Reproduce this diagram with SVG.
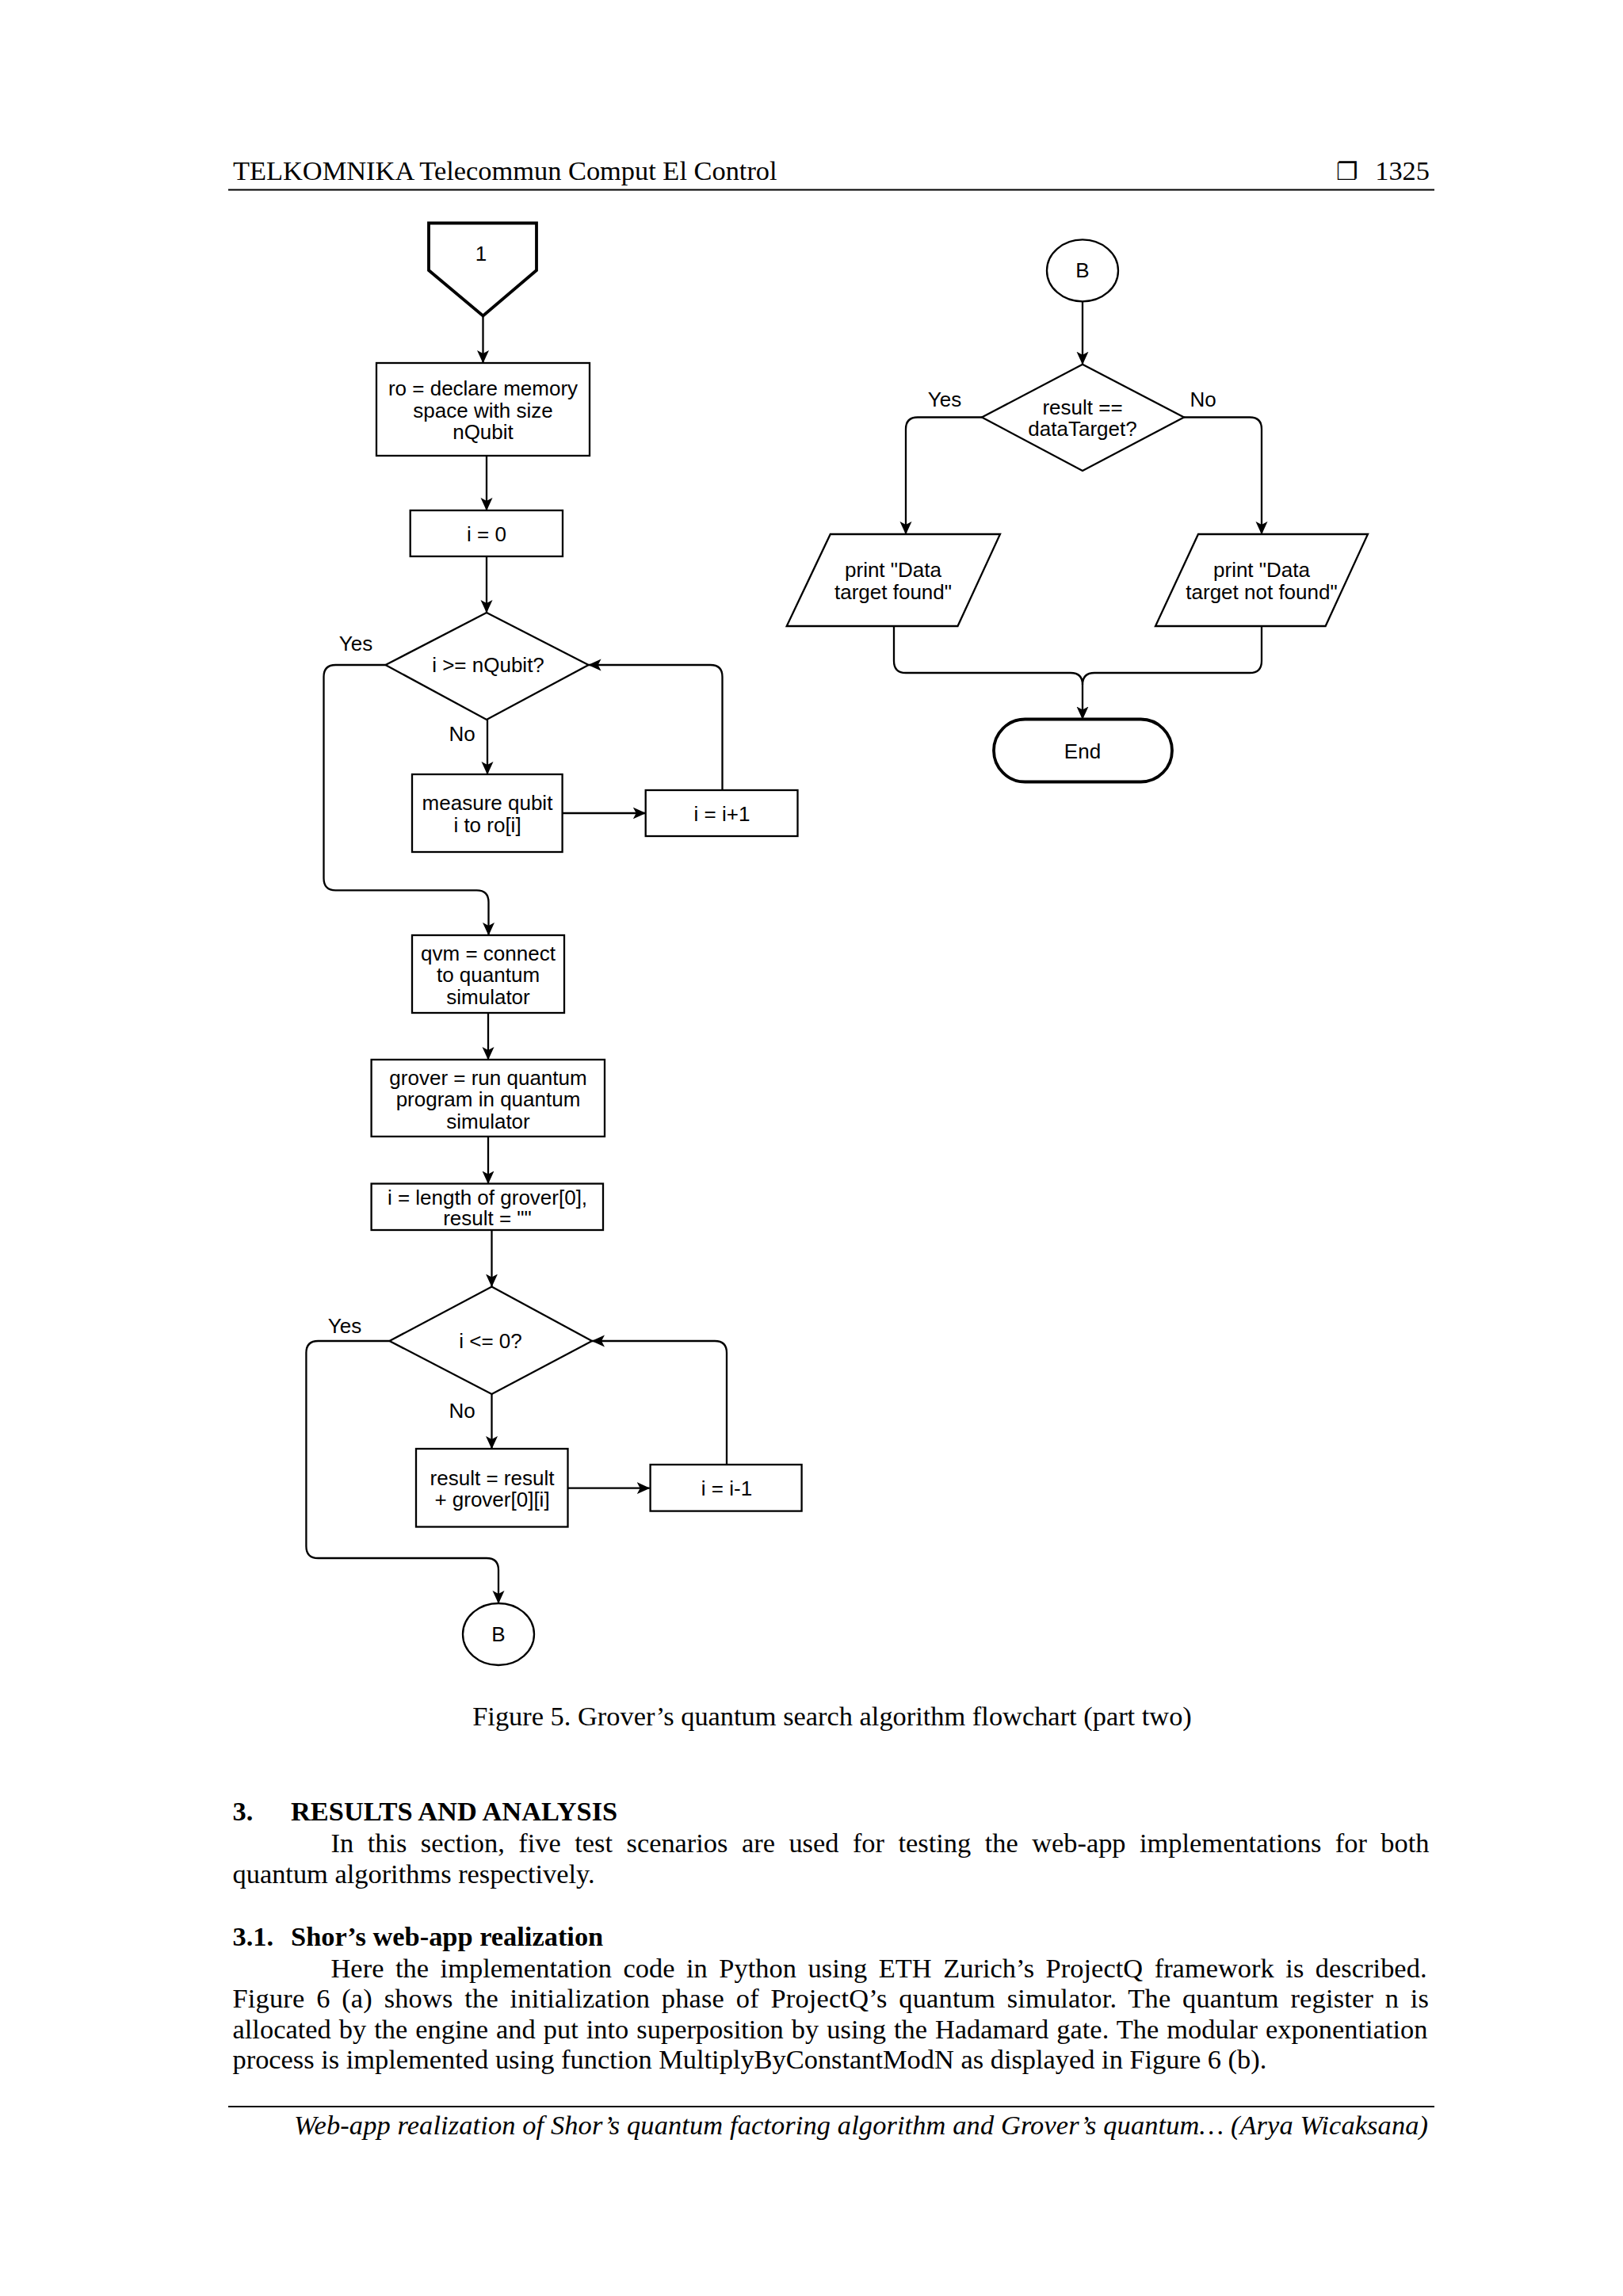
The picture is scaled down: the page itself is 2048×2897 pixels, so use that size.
<svg xmlns="http://www.w3.org/2000/svg" width="2048" height="2897" viewBox="0 0 2048 2897">
<style>
.page{font-family:"Liberation Serif","Times New Roman",serif;font-size:34.4px;fill:#000}
.bold{font-weight:bold}
.ital{font-style:italic}
.node{fill:#fff;stroke:#000;stroke-width:2.3}
.thick{fill:#fff;stroke:#000;stroke-width:3.8}
.nt{font-family:"Liberation Sans",Arial,sans-serif;font-size:26px;fill:#000;text-anchor:middle}
.lbl{font-family:"Liberation Sans",Arial,sans-serif;font-size:26px;fill:#000;text-anchor:middle}
.edge{fill:none;stroke:#000;stroke-width:2.3}
.rule{stroke:#000;stroke-width:2.2}
</style>
<defs>
<marker id="arr" markerUnits="userSpaceOnUse" markerWidth="17" markerHeight="17" refX="16" refY="8" orient="auto" viewBox="0 0 17 16">
<path d="M0,0.5 L16.5,8 L0,15.5 L4,8 Z" fill="#000"/>
</marker>
</defs>
<rect x="0" y="0" width="2048" height="2897" fill="#fff"/>

<g id="header">
<text class="page" x="294" y="227">TELKOMNIKA Telecommun Comput El Control</text>
<text x="1686" y="227" style="font-family:'DejaVu Sans',sans-serif;font-size:31px;fill:#000">❐</text>
<text class="page" x="1804" y="227" text-anchor="end">1325</text>
<line class="rule" x1="288" y1="239.5" x2="1810" y2="239.5"/>
</g>

<g id="connectors">
<line class="edge" x1="609.5" y1="398.5" x2="609.5" y2="458" marker-end="url(#arr)"/>
<line class="edge" x1="614" y1="575" x2="614" y2="644" marker-end="url(#arr)"/>
<line class="edge" x1="614" y1="702" x2="614" y2="773" marker-end="url(#arr)"/>
<path class="edge" d="M486.5,839 H423.5 Q408.5,839 408.5,854 V1108.3 Q408.5,1123.3 423.5,1123.3 H601.5 Q616.5,1123.3 616.5,1138.3 V1180" marker-end="url(#arr)"/>
<line class="edge" x1="615" y1="908" x2="615" y2="977" marker-end="url(#arr)"/>
<line class="edge" x1="709.6" y1="1026" x2="814.7" y2="1026" marker-end="url(#arr)"/>
<path class="edge" d="M911.5,997 V854 Q911.5,839 896.5,839 H742.6" marker-end="url(#arr)"/>
<line class="edge" x1="616" y1="1278" x2="616" y2="1337" marker-end="url(#arr)"/>
<line class="edge" x1="616" y1="1434" x2="616" y2="1493.5" marker-end="url(#arr)"/>
<line class="edge" x1="620.5" y1="1552" x2="620.5" y2="1623.5" marker-end="url(#arr)"/>
<path class="edge" d="M491.5,1692 H401.4 Q386.4,1692 386.4,1707 V1951 Q386.4,1966 401.4,1966 H614 Q629,1966 629,1981 V2023" marker-end="url(#arr)"/>
<line class="edge" x1="620.5" y1="1759" x2="620.5" y2="1828" marker-end="url(#arr)"/>
<line class="edge" x1="716.5" y1="1877.7" x2="819.7" y2="1877.7" marker-end="url(#arr)"/>
<path class="edge" d="M917,1848 V1707 Q917,1692 902,1692 H747" marker-end="url(#arr)"/>
<line class="edge" x1="1366" y1="380.4" x2="1366" y2="459.7" marker-end="url(#arr)"/>
<path class="edge" d="M1239,526.5 H1158 Q1143,526.5 1143,541.5 V674" marker-end="url(#arr)"/>
<path class="edge" d="M1494,526.5 H1577 Q1592,526.5 1592,541.5 V674" marker-end="url(#arr)"/>
<path class="edge" d="M1128,790 V834 Q1128,849 1143,849 H1351 Q1366,849 1366,864 V907.5" marker-end="url(#arr)"/>
<path class="edge" d="M1592,790 V834 Q1592,849 1577,849 H1381 Q1366,849 1366,864"/>
<text class="lbl" x="449" y="821">Yes</text>
<text class="lbl" x="583" y="935">No</text>
<text class="lbl" x="435" y="1682">Yes</text>
<text class="lbl" x="583" y="1789">No</text>
<text class="lbl" x="1192" y="513">Yes</text>
<text class="lbl" x="1518" y="513">No</text>
</g>

<g id="n_start">
<polygon class="thick" points="541,281.5 677,281.5 677,341 609.5,398.5 541,341"/>
<text class="nt" x="607" y="329">1</text>
</g>
<g id="n_ro">
<rect class="node" x="475" y="458" width="269" height="117"/>
<text class="nt" x="609.5" y="499">ro = declare memory</text>
<text class="nt" x="609.5" y="527">space with size</text>
<text class="nt" x="609.5" y="554">nQubit</text>
</g>
<g id="n_i0">
<rect class="node" x="517.7" y="644" width="192.3" height="58"/>
<text class="nt" x="614" y="683">i = 0</text>
</g>
<g id="n_cond1">
<polygon class="node" points="614,773 742.6,839 614,908 486.5,839"/>
<text class="nt" x="616" y="848">i &gt;= nQubit?</text>
</g>
<g id="n_measure">
<rect class="node" x="520" y="977" width="189.6" height="98"/>
<text class="nt" x="615" y="1022">measure qubit</text>
<text class="nt" x="615" y="1049.5">i to ro[i]</text>
</g>
<g id="n_inc">
<rect class="node" x="814.7" y="997" width="191.8" height="58"/>
<text class="nt" x="911" y="1036">i = i+1</text>
</g>
<g id="n_qvm">
<rect class="node" x="520" y="1180" width="192" height="98"/>
<text class="nt" x="616" y="1211.5">qvm = connect</text>
<text class="nt" x="616" y="1239">to quantum</text>
<text class="nt" x="616" y="1266.5">simulator</text>
</g>
<g id="n_grover">
<rect class="node" x="468.6" y="1337" width="294.4" height="97"/>
<text class="nt" x="616" y="1368.5">grover = run quantum</text>
<text class="nt" x="616" y="1396">program in quantum</text>
<text class="nt" x="616" y="1423.5">simulator</text>
</g>
<g id="n_len">
<rect class="node" x="468.6" y="1493.5" width="292.4" height="58.5"/>
<text class="nt" x="615" y="1520">i = length of grover[0],</text>
<text class="nt" x="615" y="1546">result = ""</text>
</g>
<g id="n_cond2">
<polygon class="node" points="620.5,1623.5 747,1692 620.5,1759 491.5,1692"/>
<text class="nt" x="619" y="1701">i &lt;= 0?</text>
</g>
<g id="n_result">
<rect class="node" x="525" y="1828" width="191.5" height="98.5"/>
<text class="nt" x="621" y="1874">result = result</text>
<text class="nt" x="621" y="1900.5">+ grover[0][i]</text>
</g>
<g id="n_dec">
<rect class="node" x="820.6" y="1848" width="191" height="58.6"/>
<text class="nt" x="917" y="1887">i = i-1</text>
</g>
<g id="n_b_out">
<ellipse class="node" cx="629" cy="2062" rx="45" ry="39"/>
<text class="nt" x="629" y="2071">B</text>
</g>
<g id="n_b_in">
<ellipse class="node" cx="1366" cy="341.4" rx="45" ry="39"/>
<text class="nt" x="1366" y="350">B</text>
</g>
<g id="n_cond3">
<polygon class="node" points="1366,459.7 1494,526.5 1366,594 1239,526.5"/>
<text class="nt" x="1366" y="523">result ==</text>
<text class="nt" x="1366" y="550">dataTarget?</text>
</g>
<g id="n_found">
<polygon class="node" points="1047.8,674 1262,674 1208.5,790 992.7,790"/>
<text class="nt" x="1127" y="728">print "Data</text>
<text class="nt" x="1127" y="756">target found"</text>
</g>
<g id="n_notfound">
<polygon class="node" points="1512,674 1726,674 1672.6,790 1458,790"/>
<text class="nt" x="1592" y="728">print "Data</text>
<text class="nt" x="1592" y="756">target not found"</text>
</g>
<g id="n_end">
<rect class="thick" x="1254" y="907.5" width="225" height="79" rx="39.5" ry="39.5"/>
<text class="nt" x="1366" y="957">End</text>
</g>

<g id="body">
<text class="page" x="1050" y="2177" text-anchor="middle">Figure 5. Grover’s quantum search algorithm flowchart (part two)</text>
<text class="page bold" x="293.5" y="2297">3.</text>
<text class="page bold" x="367" y="2297">RESULTS AND ANALYSIS</text>
<text class="page" x="417.5" y="2337" word-spacing="8.9" textLength="1386" lengthAdjust="spacing">In this section, five test scenarios are used for testing the web-app implementations for both</text>
<text class="page" x="293.5" y="2376">quantum algorithms respectively.</text>
<text class="page bold" x="293.5" y="2455">3.1.</text>
<text class="page bold" x="367" y="2455">Shor’s web-app realization</text>
<text class="page" x="417.5" y="2495" word-spacing="5.9" textLength="1383" lengthAdjust="spacing">Here the implementation code in Python using ETH Zurich’s ProjectQ framework is described.</text>
<text class="page" x="293.5" y="2533" word-spacing="5.9" textLength="1509.5" lengthAdjust="spacing">Figure 6 (a) shows the initialization phase of ProjectQ’s quantum simulator. The quantum register n is</text>
<text class="page" x="293.5" y="2572" word-spacing="1.4" textLength="1508" lengthAdjust="spacing">allocated by the engine and put into superposition by using the Hadamard gate. The modular exponentiation</text>
<text class="page" x="293.5" y="2610">process is implemented using function MultiplyByConstantModN as displayed in Figure 6 (b).</text>
<line class="rule" x1="288" y1="2658" x2="1810" y2="2658"/>
<text class="page ital" x="371" y="2693" textLength="1431" lengthAdjust="spacing">Web-app realization of Shor’s quantum factoring algorithm and Grover’s quantum… (Arya Wicaksana)</text>
</g>
</svg>
